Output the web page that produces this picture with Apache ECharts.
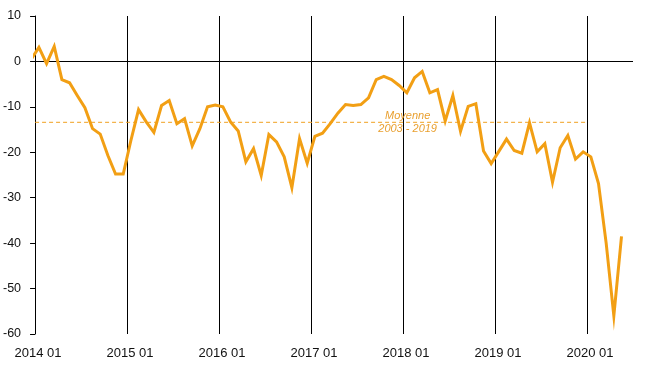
<!DOCTYPE html>
<html>
<head>
<meta charset="utf-8">
<script src="https://cdn.jsdelivr.net/npm/echarts@6/dist/echarts.min.js"></script>
<style>
html,body{margin:0;padding:0;background:#fff;}
#c{width:659px;height:379px;}
</style>
</head>
<body>
<div id="c"></div>
<script>
// Monthly values, starting 2013-12 (first point is clipped at the axis)
var firstMonthOffset = -1; // months relative to 2014 01
var values = [
  0.5,
  3.1, -0.5, 3.3, -4.0, -4.7, -7.5, -10.2, -14.8, -16.0, -20.7, -24.8, -24.8,
  -17.4, -10.6, -13.3, -15.6, -9.7, -8.6, -13.7, -12.6, -18.6, -14.8, -10.0, -9.6,
  -10.0, -13.3, -15.3, -22.1, -19.2, -25.1, -16.1, -17.7, -21.0, -27.8, -17.0, -22.4,
  -16.5, -15.8, -13.7, -11.4, -9.5, -9.7, -9.5, -8.0, -4.0, -3.3, -4.0, -5.3,
  -6.9, -3.6, -2.2, -6.9, -6.2, -13.1, -7.5, -15.4, -9.9, -9.3, -19.7, -22.5,
  -19.8, -17.1, -19.6, -20.2, -13.5, -19.9, -18.1, -26.6, -19.0, -16.3, -21.5, -19.9,
  -21.0, -26.9, -40.0, -56.0, -38.5
];
var xTickLabels = ['2014 01','2015 01','2016 01','2017 01','2018 01','2019 01','2020 01'];
var yTicks = [-60, -50, -40, -30, -20, -10, 0, 10];
var averageValue = -13.4;
var averageSpan = [0, 72];
var averageLabel = 'Moyenne\n2003 - 2019';
var averageLabelX = 48.6;

var lineData = values.map(function (v, k) { return [k + firstMonthOffset + 0.5, v]; });
var avgData = averageSpan.map(function (x) { return [x, averageValue]; });

var font = "'Liberation Sans', Arial, sans-serif";
var chart = echarts.init(document.getElementById('c'), null, {renderer: 'canvas'});
chart.setOption({
  animation: false,
  backgroundColor: '#ffffff',
  grid: {left: 35, right: 26, top: 16, bottom: 45, containLabel: false},
  xAxis: {
    type: 'value', min: 0, max: 78, interval: 12,
    axisLine: {show: false, onZero: false},
    axisTick: {show: false},
    splitLine: {show: true, showMinLine: false, showMaxLine: false, lineStyle: {color: '#000', width: 1}},
    axisLabel: {
      margin: 13, fontSize: 13, color: '#111', fontFamily: font, padding: [0, 0, 0, 6],
      formatter: function (v) { return (v % 12 === 0 && xTickLabels[v / 12]) ? xTickLabels[v / 12] : ''; }
    }
  },
  yAxis: {
    type: 'value', min: yTicks[0], max: yTicks[yTicks.length - 1], interval: 10,
    axisLine: {show: true, onZero: false, lineStyle: {color: '#000', width: 1}},
    axisTick: {show: true, length: 5, lineStyle: {color: '#000'}},
    splitLine: {show: false},
    axisLabel: {margin: 14, fontSize: 12.5, color: '#111', fontFamily: font}
  },
  series: [
    {
      type: 'line', data: avgData, symbol: 'none', silent: true,
      lineStyle: {color: '#F0A020', width: 1, type: [4, 3]},
      z: 3,
      markPoint: {
        symbol: 'circle', symbolSize: 0,
        data: [{coord: [averageLabelX, averageValue], value: averageLabel}],
        label: {
          show: true, position: 'inside', formatter: averageLabel,
          fontSize: 11, fontStyle: 'italic', lineHeight: 13.5, color: '#E9A030', fontFamily: font
        }
      }
    },
    {
      type: 'line', data: lineData, symbol: 'none', clip: true,
      lineStyle: {color: '#F29F14', width: 3, join: 'miter'},
      z: 5,
      markLine: {
        silent: true, symbol: 'none', animation: false,
        label: {show: false},
        lineStyle: {color: '#000', width: 1, type: 'solid'},
        data: [{yAxis: 0}]
      }
    }
  ]
});
</script>
</body>
</html>
